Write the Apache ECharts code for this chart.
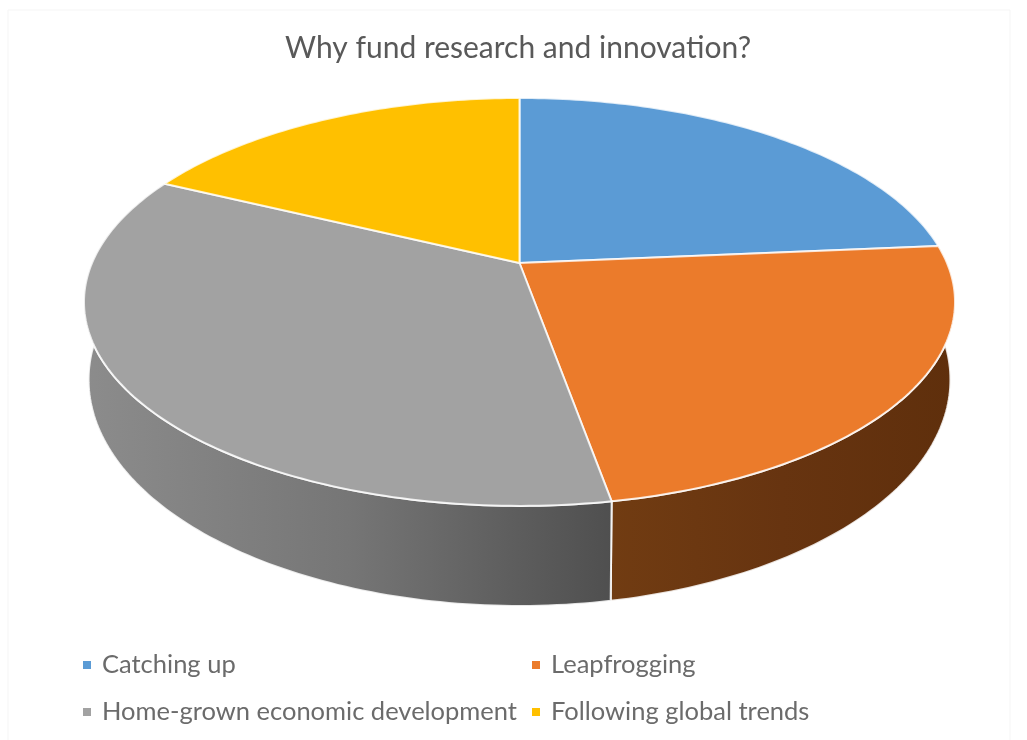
<!DOCTYPE html>
<html>
<head>
<meta charset="utf-8">
<style>html,body{margin:0;padding:0;background:#fff}#chart{width:1027px;height:740px}</style>
<script src="https://cdn.jsdelivr.net/npm/echarts@6/dist/echarts.min.js"></script>
</head>
<body>
<div id="chart"></div>
<script>
// Reasons for funding research and innovation, share of responses
const categories = ['Catching up', 'Leapfrogging', 'Home-grown economic development', 'Following global trends'];
const shares = [23.6, 23.6, 35, 17.8];
const topColors = ['#5b9bd5', '#eb7b2b', '#a2a2a2', '#ffc000'];
const wallStops = [
  ['#375d81', '#375d81', '#375d81'],
  ['#713c12', '#673410', '#5f2f0c'],
  ['#8c8c8c', '#767676', '#4f4f4f'],
  ['#997300', '#997300', '#997300']
];

// Perspective view of the disc: near rim larger than far rim
const TILT = 0.191;
const CX = 519.5;
const rimTop = { y: 263, a: 427.5, b: 196.5 };
const rimBottom = { y: 336.5, a: 423, b: 218 };
const STEP = Math.PI / 180;
const WALL_FROM = 80 * STEP;
const WALL_TO = 282 * STEP;

function project(rim, angle) {
  const u = Math.sin(angle), v = Math.cos(angle);
  const w = 1 + TILT * v;
  return [CX + rim.a * u / w, rim.y - rim.b * v / w];
}

function arcPoints(rim, from, to) {
  const pts = [];
  const n = Math.max(2, Math.ceil((to - from) / STEP));
  for (let i = 0; i <= n; i++) pts.push(project(rim, from + (to - from) * i / n));
  return pts;
}

const total = shares.reduce((a, b) => a + b, 0);

function renderSlice(index) {
  return function (params, api) {
    const before = shares.slice(0, index).reduce((a, b) => a + b, 0);
    const from = before / total * 2 * Math.PI;
    const to = (before + api.value(0)) / total * 2 * Math.PI;
    const children = [];
    const wFrom = Math.max(from, WALL_FROM), wTo = Math.min(to, WALL_TO);
    if (wTo > wFrom) {
      const pts = arcPoints(rimTop, wFrom, wTo).concat(arcPoints(rimBottom, wFrom, wTo).reverse());
      // The wall shades from left to right, so the stops run along x
      children.push({
        type: 'polygon',
        shape: { points: pts },
        style: {
          fill: {
            type: 'linear', x: 0, y: 0, x2: 1, y2: 0,
            colorStops: wallStops[index].map((color, k) => ({ offset: k / 2, color }))
          },
          stroke: 'rgba(255,255,255,0.85)',
          lineWidth: 2
        }
      });
    }
    const top = [[CX, rimTop.y]].concat(arcPoints(rimTop, from, to));
    children.push({
      type: 'polygon',
      shape: { points: top },
      style: { fill: api.visual('color'), stroke: 'rgba(255,255,255,0.8)', lineWidth: 2, lineJoin: 'round' }
    });
    return { type: 'group', children };
  };
}

const legendSpots = [
  { left: 78, top: 647 },
  { left: 527, top: 647 },
  { left: 78, top: 694 },
  { left: 527, top: 694 }
];

const chart = echarts.init(document.getElementById('chart'), null, { renderer: 'canvas' });
chart.setOption({
  animation: false,
  backgroundColor: '#ffffff',
  title: {
    text: 'Why fund research and innovation?',
    left: 280,
    top: 28,
    textStyle: { fontFamily: 'Lato', fontSize: 30, fontWeight: 'normal', color: '#595959' }
  },
  legend: categories.map((name, i) => ({
    data: [name],
    left: legendSpots[i].left,
    top: legendSpots[i].top,
    icon: 'rect',
    itemWidth: 8,
    itemHeight: 8,
    itemGap: 0,
    selectedMode: false,
    textStyle: { fontFamily: 'Lato', fontSize: 25.5, color: '#6b6b6b', padding: [0, 0, 0, 6] }
  })),
  graphic: [{
    type: 'rect',
    silent: true,
    shape: { x: 8, y: 10, width: 1002, height: 740 },
    style: { fill: 'transparent', stroke: '#f5f5f5', lineWidth: 1 }
  }],
  series: categories.map((name, i) => ({
    type: 'custom',
    name,
    coordinateSystem: 'none',
    silent: true,
    itemStyle: { color: topColors[i] },
    renderItem: renderSlice(i),
    data: [[shares[i]]]
  }))
});
</script>
</body>
</html>
